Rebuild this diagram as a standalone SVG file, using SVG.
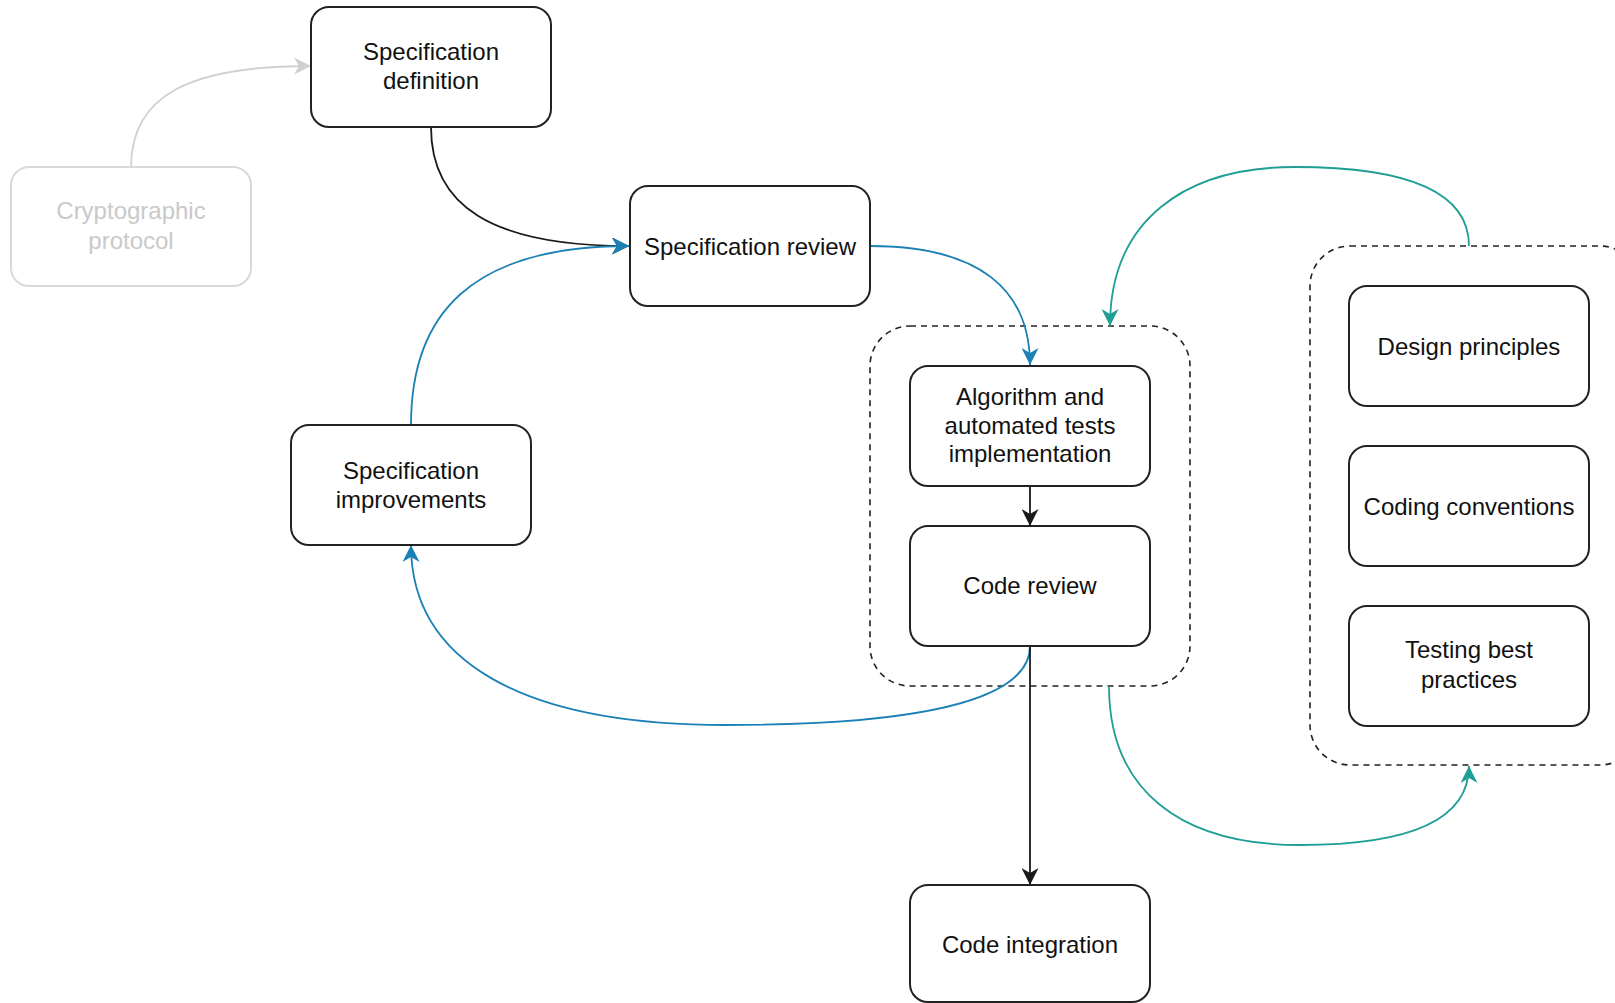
<svg xmlns="http://www.w3.org/2000/svg" width="1615" height="1003" viewBox="0 0 1615 1003">
<style>
.node rect{fill:#fff;stroke:#222;stroke-width:2}
.node text{font-family:"Liberation Sans",Arial,sans-serif;font-size:24px;fill:#111;text-anchor:middle}
.faded rect{stroke:#d9d9d9}
.faded text{fill:#c9c9c9}
.group rect{fill:none;stroke:#222;stroke-width:1.6;stroke-dasharray:6 5}
.edge{fill:none;stroke-width:1.8}
.blk{stroke:#1a1a1a}
.blu{stroke:#1a80b5}
.tea{stroke:#1e9e94}
.gry{stroke:#d0d0d0}
</style>
<defs>
<marker id="aBlk" viewBox="0 0 17 17" refX="17" refY="8.5" markerWidth="17" markerHeight="17" orient="auto" markerUnits="userSpaceOnUse"><path d="M0,0 L17,8.5 L0,17 L5,8.5 Z" fill="#1a1a1a"/></marker>
<marker id="aBlu" viewBox="0 0 17 17" refX="17" refY="8.5" markerWidth="17" markerHeight="17" orient="auto" markerUnits="userSpaceOnUse"><path d="M0,0 L17,8.5 L0,17 L5,8.5 Z" fill="#1a80b5"/></marker>
<marker id="aTea" viewBox="0 0 17 17" refX="17" refY="8.5" markerWidth="17" markerHeight="17" orient="auto" markerUnits="userSpaceOnUse"><path d="M0,0 L17,8.5 L0,17 L5,8.5 Z" fill="#1e9e94"/></marker>
<marker id="aGry" viewBox="0 0 17 17" refX="17" refY="8.5" markerWidth="17" markerHeight="17" orient="auto" markerUnits="userSpaceOnUse"><path d="M0,0 L17,8.5 L0,17 L5,8.5 Z" fill="#d0d0d0"/></marker>
</defs>
<rect width="1615" height="1003" fill="#fff"/>

<g id="groups">
<g id="group-implementation" class="group"><rect x="870" y="326" width="320" height="360" rx="40"/></g>
<g id="group-guidelines" class="group"><rect x="1310" y="246" width="330" height="519" rx="40"/></g>
</g>

<g id="connectors">
<path class="edge gry" d="M131,167 C131,95 190,66 311,66" marker-end="url(#aGry)"/>
<path class="edge blk" d="M431,127 C431,205 490,246 629,246" marker-end="url(#aBlk)"/>
<path class="edge blu" d="M411,425 C411,315 470,246 629,246" marker-end="url(#aBlu)"/>
<path class="edge blu" d="M870,246 C980,246 1030,290 1030,365" marker-end="url(#aBlu)"/>
<path class="edge blk" d="M1030,486 L1030,526" marker-end="url(#aBlk)"/>
<path class="edge blu" d="M1030,646 C1030,705 900,725 725,725 C520,725 411,660 411,545" marker-end="url(#aBlu)"/>
<path class="edge blk" d="M1030,646 L1030,885" marker-end="url(#aBlk)"/>
<path class="edge tea" d="M1469,246 C1469,185 1390,167 1295,167 C1185,167 1110,220 1110,326" marker-end="url(#aTea)"/>
<path class="edge tea" d="M1109,686 C1109,790 1180,845 1300,845 C1420,845 1469,815 1469,766" marker-end="url(#aTea)"/>
</g>

<g id="node-crypto" class="node faded"><rect x="11" y="167" width="240" height="119" rx="18"/><text x="131" y="219">Cryptographic</text><text x="131" y="249">protocol</text></g>
<g id="node-spec-def" class="node"><rect x="311" y="7" width="240" height="120" rx="18"/><text x="431" y="60">Specification</text><text x="431" y="89">definition</text></g>
<g id="node-spec-review" class="node"><rect x="630" y="186" width="240" height="120" rx="18"/><text x="750" y="255">Specification review</text></g>
<g id="node-spec-improve" class="node"><rect x="291" y="425" width="240" height="120" rx="18"/><text x="411" y="479">Specification</text><text x="411" y="508">improvements</text></g>
<g id="node-algorithm" class="node"><rect x="910" y="366" width="240" height="120" rx="18"/><text x="1030" y="405">Algorithm and</text><text x="1030" y="434">automated tests</text><text x="1030" y="462">implementation</text></g>
<g id="node-code-review" class="node"><rect x="910" y="526" width="240" height="120" rx="18"/><text x="1030" y="594">Code review</text></g>
<g id="node-code-integration" class="node"><rect x="910" y="885" width="240" height="117" rx="18"/><text x="1030" y="953">Code integration</text></g>
<g id="node-design" class="node"><rect x="1349" y="286" width="240" height="120" rx="18"/><text x="1469" y="355">Design principles</text></g>
<g id="node-coding" class="node"><rect x="1349" y="446" width="240" height="120" rx="18"/><text x="1469" y="515">Coding conventions</text></g>
<g id="node-testing" class="node"><rect x="1349" y="606" width="240" height="120" rx="18"/><text x="1469" y="658">Testing best</text><text x="1469" y="688">practices</text></g>
</svg>
